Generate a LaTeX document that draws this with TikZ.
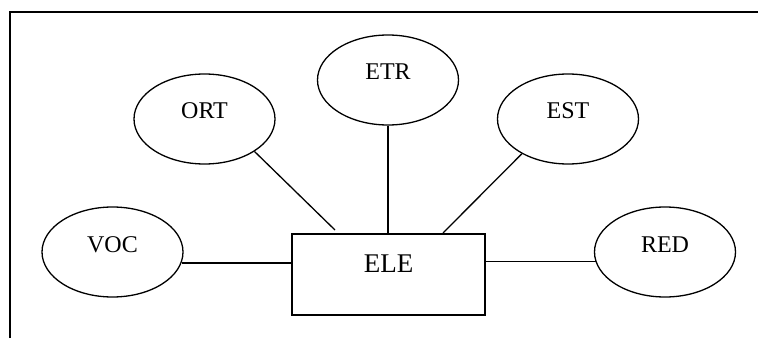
\documentclass[tikz,border=0pt]{standalone}
\usepackage{fontspec}
\setmainfont{Liberation Serif}
\usepackage{tikz}
\usetikzlibrary{shapes.geometric}

\begin{document}
\begin{tikzpicture}[x=1pt,y=1pt,line width=1.3pt,
    attr/.style={ellipse,draw,minimum width=141pt,minimum height=90pt,inner sep=0pt,
      text height=17pt,text depth=17pt,font=\fontsize{24}{28}\selectfont},
    ent/.style={rectangle,draw,minimum width=193pt,minimum height=81pt,inner sep=0pt,
      text height=19pt,text depth=24pt,font=\fontsize{27}{32}\selectfont}]
      \useasboundingbox (0,0) rectangle (758,338);
      \draw (10,0) -- (10,326) -- (758,326);
      \node[ent] (ELE) at (388.5,63.5) {ELE};
      \node[attr] (ORT) at (204.5,219) {ORT};
      \node[attr] (ETR) at (388,258) {ETR};
      \node[attr] (EST) at (568,219) {EST};
      \node[attr] (VOC) at (112.5,86) {VOC};
      \node[attr] (RED) at (665,86) {RED};
      \coordinate (ortend) at (335,108);
      \coordinate (estend) at (443,105);
      \draw (VOC.-9) -- (VOC.-9 -| ELE.west);
      \draw (RED.188) -- (RED.188 -| ELE.east);
      \draw (ETR.south) -- (ETR.south |- ELE.north);
      \draw (ORT.-33) -- (ortend);
      \draw (EST.-143) -- (estend);
\end{tikzpicture}
\end{document}
